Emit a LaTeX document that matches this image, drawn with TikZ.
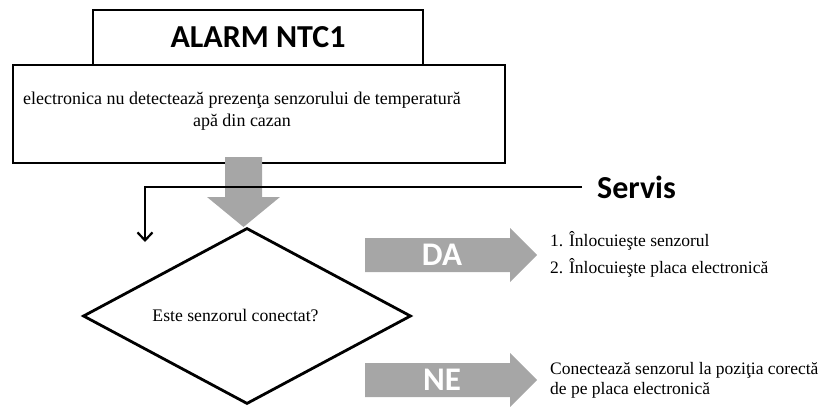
\documentclass[tikz,border=0pt]{standalone}
\usepackage{fontspec}
\setmainfont{Liberation Serif}
\newfontfamily\calfont{Carlito}
\usetikzlibrary{shapes.geometric,arrows.meta}
\definecolor{arrgray}{HTML}{A6A6A6}
\begin{document}
\begin{tikzpicture}[x=1pt,y=-1pt,
  box/.style={draw,line width=2.8pt,inner sep=0,rectangle},
  serif/.style={font=\fontsize{18}{22}\selectfont,inner sep=0,align=center},
  side/.style={inner sep=0,anchor=west,align=left},
  bigsans/.style={font=\calfont\bfseries\fontsize{#1}{#1}\selectfont,inner sep=0},
  grayfill/.style={fill=arrgray,draw=none}]
\useasboundingbox (0,0) rectangle (831,407);
% title and description boxes
\node[box,minimum width=330,minimum height=55,bigsans=32] (title) at (258,37.5) {ALARM NTC1};
\node[box,minimum width=492,minimum height=98] (desc) at (259,114) {};
\node[serif] (desctext) at (242,111) {electronica nu detectează prezenţa senzorului de temperatură\\apă din cazan};
% decision
\node[draw,diamond,line width=2.8pt,minimum width=328,minimum height=176,inner sep=0] (q) at (247,316) {};
\node[serif,font=\fontsize{17.7}{22}\selectfont] (qtext) at (235.5,315) {Este senzorul conectat?};
% gray down arrow from box to decision
\fill[grayfill] (225,157) -- (262,157) -- (262,197) -- (280,197) -- (243.5,227) -- (207,197) -- (225,197) -- cycle;
% Servis connector
\node[bigsans=32,anchor=west] (servis) at (597,187) {Servis};
\coordinate (sv) at (582,187);
\coordinate (entry) at (145,242);
\draw[line width=2.2pt,-{Straight Barb[length=8pt,width=15pt]}] (sv) -| (entry);
% DA arrow
\fill[grayfill] (365,238) -- (510,238) -- (510,228) -- (537,255) -- (510,282) -- (510,272) -- (365,272) -- cycle;
\node[bigsans=33,text=white] (da) at (442,255) {DA};
\node[side,font=\fontsize{17.5}{27}\selectfont] (datext) at (550,254) {1. Înlocuieşte senzorul\\2. Înlocuieşte placa electronică};
% NE arrow
\fill[grayfill] (365,363) -- (510,363) -- (510,353) -- (537,380) -- (510,407) -- (510,397) -- (365,397) -- cycle;
\node[bigsans=33,text=white] (ne) at (442,380) {NE};
\node[side,font=\fontsize{17.5}{20}\selectfont] (netext) at (550,380) {Conectează senzorul la poziţia corectă\\de pe placa electronică};
\end{tikzpicture}
\end{document}
